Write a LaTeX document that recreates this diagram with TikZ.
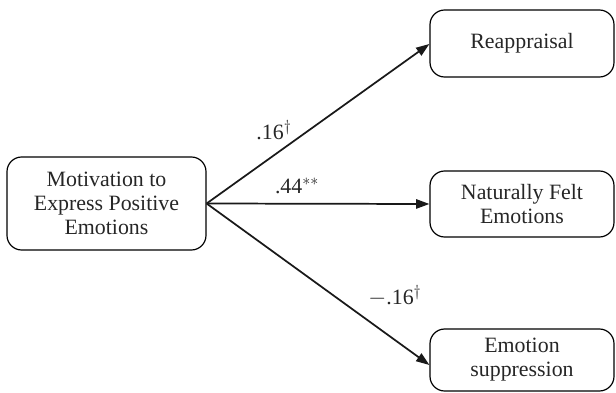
\documentclass[tikz,border=0pt]{standalone}
\usepackage{fontspec}
\setmainfont{Liberation Serif}
\usetikzlibrary{arrows.meta}
\begin{document}
\begin{tikzpicture}[x=0.75pt,y=-0.75pt,
  box/.style={draw, line width=0.9pt, rounded corners=11pt, align=center, inner sep=0pt,
    font=\fontsize{16.4pt}{18pt}\selectfont, text=black!85},
  path/.style={line width=1.3pt, draw=black!90, -{Triangle[length=10pt,width=7pt]}},
  lab/.style={font=\fontsize{16.4pt}{18pt}\selectfont, text=black!85, inner sep=0pt}]
\useasboundingbox (0,0) rectangle (616,392);
\node[box, minimum width=149.25pt, minimum height=69.75pt] (src) at (106.5,203.5) {Motivation to\\Express Positive\\Emotions};
\node[box, minimum width=138pt, minimum height=50.25pt] (re) at (522,43.5) {Reappraisal};
\node[box, minimum width=138pt, minimum height=49.5pt] (nf) at (522,204) {Naturally Felt\\Emotions};
\node[box, minimum width=138pt, minimum height=46.5pt] (es) at (522,360) {Emotion\\suppression};
\draw[path] (src.east) -- (re.west |- 0,44);
\draw[path] (src.east) -- (nf.west);
\draw[path] (src.east) -- (es.west |- 0,365);
\node[lab] (l1) at (274,130) {.16$^{\dagger}$};
\node[lab] (l2) at (297,186) {.44$^{**}$};
\node[lab] (l3) at (395,296) {$-$.16$^{\dagger}$};
\end{tikzpicture}
\end{document}
